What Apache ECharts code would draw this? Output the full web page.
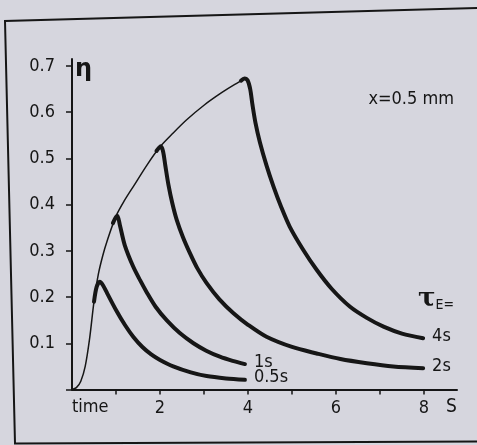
<!DOCTYPE html>
<html>
<head>
<meta charset="utf-8">
<script src="https://cdn.jsdelivr.net/npm/echarts@6/dist/echarts.min.js"></script>
<style>
  html, body { margin: 0; padding: 0; background: #d6d6de; }
  #chart { width: 477px; height: 445px; }
</style>
</head>
<body>
<div id="chart"></div>
<script>
// η over time, x = 0.5 mm, for several exposure times τE
var envelope = [[0,0],[0.1,0.004],[0.2,0.018],[0.3,0.05],[0.4,0.11],[0.5,0.19],[0.6,0.25],[0.7,0.29],
    [0.8,0.322],[1.0,0.375],[1.2,0.41],[1.4,0.44],[1.7,0.485],[2.0,0.525],[2.3,0.555],[2.6,0.583],
    [3.0,0.615],[3.4,0.642],[3.7,0.66],[3.95,0.673]];

var tau05 = [[0.5,0.19],[0.56,0.222],[0.63,0.233],[0.7,0.226],[0.8,0.208],[1.0,0.172],
    [1.2,0.14],[1.4,0.113],[1.6,0.092],[1.8,0.076],[2.0,0.064],[2.3,0.05],[2.7,0.037],[3.06,0.029],
    [3.5,0.024],[3.93,0.021]];

var tau1 = [[0.93,0.36],[0.98,0.37],[1.03,0.376],[1.09,0.355],[1.2,0.312],[1.39,0.266],[1.55,0.236],
    [1.7,0.21],[1.9,0.179],[2.15,0.15],[2.45,0.122],[2.76,0.1],[3.05,0.084],[3.36,0.071],
    [3.65,0.062],[3.93,0.055]];

var tau2 = [[1.92,0.516],[1.97,0.522],[2.02,0.526],[2.07,0.515],[2.12,0.485],[2.19,0.444],[2.28,0.403],
    [2.38,0.367],[2.52,0.33],[2.68,0.295],[2.85,0.262],[3.06,0.23],[3.35,0.195],[3.67,0.165],
    [4.0,0.14],[4.42,0.114],[5.0,0.092],[5.56,0.078],[6.1,0.066],[6.7,0.057],[7.3,0.05],[7.98,0.046]];

var tau4 = [[3.84,0.668],[3.92,0.673],[3.99,0.669],[4.05,0.65],[4.1,0.617],[4.17,0.577],[4.27,0.535],
    [4.42,0.485],[4.58,0.439],[4.75,0.396],[4.95,0.352],[5.25,0.303],[5.56,0.259],[5.9,0.218],
    [6.32,0.179],[6.7,0.155],[7.08,0.136],[7.5,0.121],[7.98,0.111]];

var xTicks = [1,2,3,4,5,6,7,8];
var xLabels = [2,4,6,8];
var yTicks = [0,0.1,0.2,0.3,0.4,0.5,0.6,0.7];
var yLabels = [0.1,0.2,0.3,0.4,0.5,0.6,0.7];

var font = '"DejaVu Sans Condensed", "Liberation Sans Narrow", "Liberation Sans", sans-serif';
var ink = '#161616';

function decay(name, data) {
    return {
        name: name,
        type: 'line',
        data: data,
        smooth: 0.3,
        symbol: 'none',
        lineStyle: { color: ink, width: 4, cap: 'round' },
        endLabel: {
            show: true,
            formatter: name,
            distance: 9,
            offset: [0, -2],
            color: ink,
            fontSize: 18,
            fontFamily: font
        }
    };
}

var chart = echarts.init(document.getElementById('chart'));
var option = {
    backgroundColor: '#d6d6de',
    animation: false,
    grid: { left: 72, right: 20, top: 59, bottom: 55.5 },
    xAxis: {
        type: 'value',
        min: 0,
        max: 8.75,
        axisLine: { show: true, lineStyle: { color: ink, width: 2 } },
        axisTick: { show: true, length: 5, customValues: xTicks, lineStyle: { color: ink, width: 1.5 } },
        axisLabel: { customValues: xLabels, margin: 10, color: ink, fontSize: 18, fontFamily: font },
        splitLine: { show: false }
    },
    yAxis: {
        type: 'value',
        min: 0,
        max: 0.715,
        axisLine: { show: true, lineStyle: { color: ink, width: 2 } },
        axisTick: { show: true, length: 6, customValues: yTicks, lineStyle: { color: ink, width: 1.5 } },
        axisLabel: {
            customValues: yLabels, margin: 17, color: ink, fontSize: 18, fontFamily: font,
            formatter: function (v) { return v.toFixed(1); }
        },
        splitLine: { show: false }
    },
    graphic: [
        { type: 'polyline', shape: { points: [[477,441.5],[15,443.5],[5,21],[477,8]] },
          style: { stroke: ink, lineWidth: 2, fill: null } },
        { type: 'text', left: 75, top: 58, style: { text: 'η', fontSize: 24, fontWeight: 'bold', fontFamily: 'DejaVu Sans', fill: ink } },
        { type: 'text', right: 23, top: 90, style: { text: 'x=0.5 mm', fontSize: 18, fontFamily: font, fill: ink } },
        { type: 'text', left: 72, top: 398, style: { text: 'time', fontSize: 18, fontFamily: font, fill: ink } },
        { type: 'text', left: 446, top: 398, style: { text: 'S', fontSize: 19, fontFamily: font, fill: ink } },
        { type: 'text', left: 418, top: 286, style: {
            text: '{t|τ}{s|E=}',
            rich: {
                t: { fontSize: 26, fontWeight: 'bold', fontFamily: 'DejaVu Serif', fill: ink },
                s: { fontSize: 14, fontFamily: font, fill: ink, padding: [12, 0, 0, 0] }
            }
        } }
    ],
    series: [
        { name: 'envelope', type: 'line', data: envelope, smooth: 0.3, symbol: 'none',
          lineStyle: { color: ink, width: 1.5 } },
        decay('0.5s', tau05),
        decay('1s', tau1),
        decay('2s', tau2),
        decay('4s', tau4)
    ]
};
chart.setOption(option);
</script>
</body>
</html>
